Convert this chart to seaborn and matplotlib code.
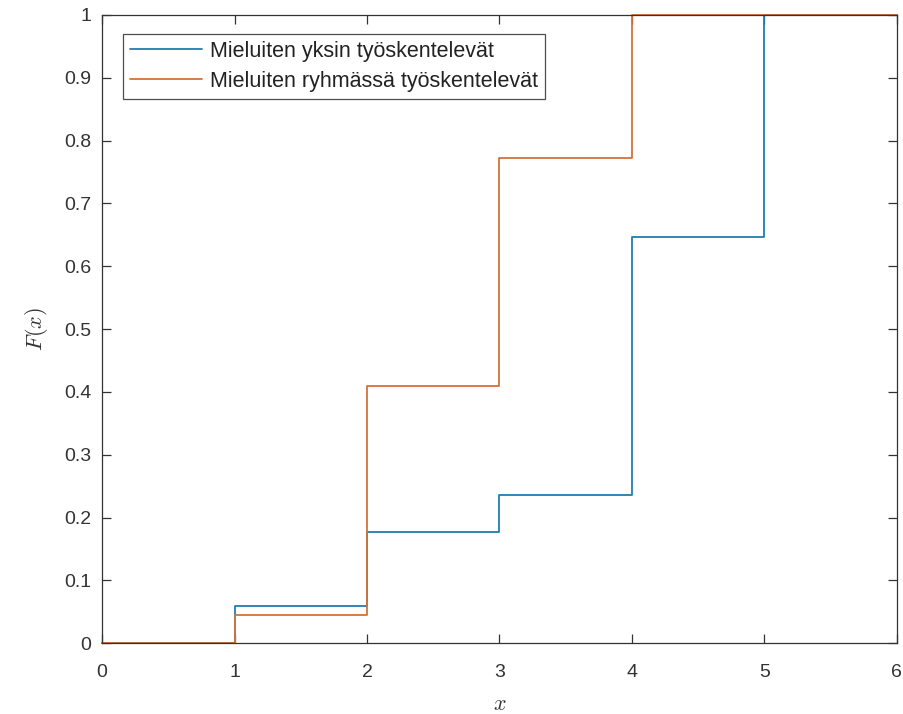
import numpy as np
import pandas as pd
import matplotlib
matplotlib.use("Agg")
import matplotlib.pyplot as plt
import seaborn as sns

# Vastausten lukumäärät arvoille x = 0..6 (luettu kuvasta)
x_arvot = [0, 1, 2, 3, 4, 5, 6]
yksin_lkm = [0, 1, 2, 1, 7, 6, 0]      # n = 17
ryhma_lkm = [0, 1, 8, 8, 5, 0, 0]      # n = 22

nimet = ["Mieluiten yksin työskentelevät", "Mieluiten ryhmässä työskentelevät"]
varit = ["#1f7db0", "#d2743a"]

# Empiirinen kertymäfunktio
yksin_F = np.cumsum(yksin_lkm) / np.sum(yksin_lkm)
ryhma_F = np.cumsum(ryhma_lkm) / np.sum(ryhma_lkm)

df = pd.concat([
    pd.DataFrame({"x": x_arvot, "F": yksin_F, "ryhma": nimet[0]}),
    pd.DataFrame({"x": x_arvot, "F": ryhma_F, "ryhma": nimet[1]}),
])

sns.set_theme(style="white")
plt.rcParams["font.family"] = ["Liberation Sans", "DejaVu Sans"]
plt.rcParams["mathtext.fontset"] = "cm"

fig = plt.figure(figsize=(9.04, 7.14), dpi=100)
ax = fig.add_axes([0.113, 0.099, 0.879, 0.880])

sns.lineplot(data=df, x="x", y="F", hue="ryhma", palette=varit,
             drawstyle="steps-post", linewidth=1.3, ax=ax, legend=True)
for ln in ax.get_lines():
    ln.set_clip_on(False)

ax.set_xlim(0, 6)
ax.set_ylim(0, 1)
ax.set_xticks(range(0, 7))
ax.set_yticks(np.round(np.arange(0, 1.01, 0.1), 1))
ax.set_yticklabels(["0", "0.1", "0.2", "0.3", "0.4", "0.5", "0.6", "0.7", "0.8", "0.9", "1"])
ax.set_xlabel("$x$", fontsize=16, color="#333333", labelpad=9)
ax.set_ylabel("$F(x)$", fontsize=16, color="#333333", labelpad=10)

ax.tick_params(direction="in", bottom=True, left=True, top=True, right=True,
               length=6.5, width=0.9, labelsize=14, colors="#333333")
ax.tick_params(axis="x", pad=15)
ax.tick_params(axis="y", pad=8)
for s in ax.spines.values():
    s.set_color("#333333")
    s.set_linewidth(0.9)

leg = ax.legend(loc="upper left", fontsize=15.5, frameon=True, fancybox=False,
                handlelength=3.35, handletextpad=0.37, borderpad=0.33,
                labelspacing=0.4, bbox_to_anchor=(0.026, 0.970),
                borderaxespad=0)
leg.get_frame().set_edgecolor("#222222")
leg.get_frame().set_linewidth(0.9)
for t in leg.get_texts():
    t.set_color("#222222")

plt.savefig("out.png", dpi=100)
